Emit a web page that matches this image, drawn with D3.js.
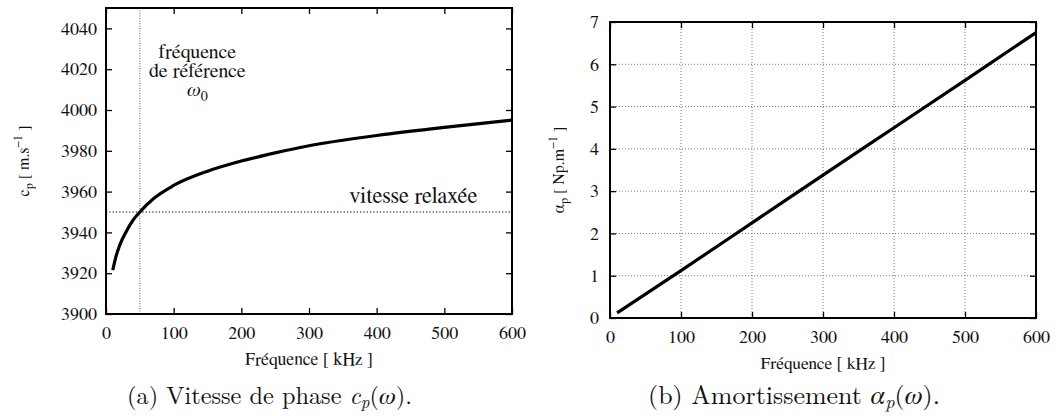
<!DOCTYPE html>
<html><head><meta charset="utf-8">
<script src="https://cdn.jsdelivr.net/npm/d3@7"></script>
<style>
body{margin:0;background:#fff;}
svg text{font-family:"FreeSerif","Nimbus Roman",serif;fill:#111;}
svg text.cap{font-family:"Latin Modern Roman","FreeSerif",serif;fill:#111;}
</style></head><body>
<svg id="c" width="1059" height="416"></svg>
<script>
// ---- data ----
const freqA = [10,15,20,30,40,50,70,100,150,200,250,300,400,500,600];           // kHz
const velocity = [3921.5,3928.5,3933.5,3940.5,3946,3950,3956.5,3963,3970,3975,3979,3982.5,3987.5,3991.5,3995]; // m/s
const freqB = [10,100,200,300,400,500,600];                                      // kHz
const attenuation = [0.12,1.12,2.25,3.38,4.5,5.62,6.75];                         // Np/m
const xTicks = [0,100,200,300,400,500,600];
const yTicksA = [3900,3920,3940,3960,3980,4000,4020,4040];
const yTicksB = [0,1,2,3,4,5,6,7];
const refFreq = 50;
const relaxedVelocity = 3950;

const svg = d3.select("#c");
const FS = 18;
const fmt = d3.format("d");

function frame(g, x, y, yTicks, opts){
  const [x0,x1] = x.range(), [y0,y1] = y.range();
  if (opts.grid){
    const gg = g.append("g").attr("stroke","#777").attr("stroke-width",1).attr("stroke-dasharray","1,2");
    gg.selectAll("line.v").data(xTicks.slice(1,-1)).join("line")
      .attr("x1",d=>x(d)).attr("x2",d=>x(d)).attr("y1",y0).attr("y2",y1);
    gg.selectAll("line.h").data(yTicks.slice(1,-1)).join("line")
      .attr("x1",x0).attr("x2",x1).attr("y1",d=>y(d)).attr("y2",d=>y(d));
  }
  const bottom = g.append("g").attr("transform",`translate(0,${y0})`)
    .call(d3.axisBottom(x).tickValues(xTicks).tickFormat(fmt).tickSizeInner(-6).tickSizeOuter(0).tickPadding(12));
  const top = g.append("g").attr("transform",`translate(0,${y1})`)
    .call(d3.axisTop(x).tickValues(xTicks).tickSizeInner(-6).tickSizeOuter(0).tickFormat(""));
  const left = g.append("g").attr("transform",`translate(${x0},0)`)
    .call(d3.axisLeft(y).tickValues(yTicks).tickFormat(fmt).tickSizeInner(-6).tickSizeOuter(0).tickPadding(opts.ypad));
  const right = g.append("g").attr("transform",`translate(${x1},0)`)
    .call(d3.axisRight(y).tickValues(yTicks).tickSizeInner(-6).tickSizeOuter(0).tickFormat(""));
  [bottom,top,left,right].forEach(a=>{
    a.attr("font-family",null).attr("font-size",null);
    a.select(".domain").remove();
    a.selectAll(".tick line").attr("stroke","#000").attr("stroke-width",1.3);
    a.selectAll(".tick text").attr("font-size",FS).attr("fill","#111");
  });
  return {x0,x1,y0,y1};
}

function border(g,b){
  g.append("rect").attr("x",b.x0).attr("y",b.y1).attr("width",b.x1-b.x0).attr("height",b.y0-b.y1)
    .attr("fill","none").attr("stroke","#000").attr("stroke-width",2);
}
function fit(t, targetW, base, subs){
  const w = t.node().getComputedTextLength();
  if (w>0){ const k = targetW/w; t.attr("font-size",base*k); (subs||[]).forEach(([s,fs])=>s.attr("font-size",fs*k)); }
}

// ---------------- Panel (a) ----------------
const xA = d3.scaleLinear().domain([0,600]).range([106,512]);
const yA = d3.scaleLinear().domain([3900,4050]).range([314,8]);
const gA = svg.append("g");
const bA = frame(gA, xA, yA, yTicksA, {grid:false, ypad:9});

gA.append("line").attr("x1",xA(refFreq)).attr("x2",xA(refFreq)).attr("y1",bA.y0).attr("y2",bA.y1)
  .attr("stroke","#666").attr("stroke-width",1).attr("stroke-dasharray","1,1.5");
gA.append("line").attr("x1",bA.x0).attr("x2",bA.x1).attr("y1",yA(relaxedVelocity)).attr("y2",yA(relaxedVelocity))
  .attr("stroke","#000").attr("stroke-width",1.2).attr("stroke-dasharray","1.3,2");

gA.append("path").datum(d3.zip(freqA, velocity))
  .attr("d", d3.line().x(d=>xA(d[0])).y(d=>yA(d[1])).curve(d3.curveMonotoneX))
  .attr("fill","none").attr("stroke","#000").attr("stroke-width",3.2);
border(gA,bA);

const annA = gA.append("g").attr("font-size",20).attr("text-anchor","middle");
annA.append("text").attr("x",xA(135)).attr("y",yA(4025.5)).text("fréquence");
annA.append("text").attr("x",xA(135)).attr("y",yA(4016)).text("de référence");
const om = annA.append("text").attr("x",xA(135)).attr("y",yA(4007)).attr("text-anchor","middle");
om.append("tspan").attr("font-style","italic").attr("font-size",20).style("font-family","'Latin Modern Roman',FreeSerif,serif").text("ω");
om.append("tspan").attr("font-size",14).attr("dy",5).text("0");
const vr = gA.append("text").attr("x",xA(549)).attr("y",yA(3954.5)).attr("text-anchor","end").attr("font-size",FS).text("vitesse relaxée");
fit(vr, 128, FS);

const xtA = gA.append("text").attr("x",(bA.x0+bA.x1)/2).attr("y",365).attr("text-anchor","middle").attr("font-size",15).text("Fréquence [ kHz ]");
fit(xtA, 128, 15);
const ylA = gA.append("text").attr("transform",`translate(29,${(bA.y0+bA.y1)/2}) rotate(-90)`).attr("text-anchor","middle").attr("font-size",16);
ylA.append("tspan").text("c");
ylA.append("tspan").attr("font-size",12).attr("dy",4).text("p");
ylA.append("tspan").attr("dy",-4).text(" [ m.s");
ylA.append("tspan").attr("font-size",12).attr("dy",-7).text("−1");
ylA.append("tspan").attr("dy",7).text(" ]");

// ---------------- Panel (b) ----------------
const xB = d3.scaleLinear().domain([0,600]).range([610,1036]);
const yB = d3.scaleLinear().domain([0,7]).range([318,22]);
const gB = svg.append("g");
const bB = frame(gB, xB, yB, yTicksB, {grid:true, ypad:11});
gB.append("path").datum(d3.zip(freqB, attenuation))
  .attr("d", d3.line().x(d=>xB(d[0])).y(d=>yB(d[1])).curve(d3.curveMonotoneX))
  .attr("fill","none").attr("stroke","#000").attr("stroke-width",3.2);
border(gB,bB);
const xtB = gB.append("text").attr("x",(bB.x0+bB.x1)/2).attr("y",369).attr("text-anchor","middle").attr("font-size",15).text("Fréquence [ kHz ]");
fit(xtB, 125, 15);
const ylB = gB.append("text").attr("transform",`translate(564,${(bB.y0+bB.y1)/2}) rotate(-90)`).attr("text-anchor","middle").attr("font-size",16);
ylB.append("tspan").text("α");
ylB.append("tspan").attr("font-size",12).attr("dy",4).text("p");
ylB.append("tspan").attr("dy",-4).text(" [ Np.m");
ylB.append("tspan").attr("font-size",12).attr("dy",-7).text("−1");
ylB.append("tspan").attr("dy",7).text(" ]");

// ---------------- captions ----------------
function caption(cx, y, parts, targetW){
  const t = svg.append("text").attr("class","cap").attr("x",cx).attr("y",y).attr("text-anchor","middle").attr("font-size",20);
  const subs = [];
  parts.forEach(p=>{
    const s = t.append("tspan").text(p.t);
    if (p.i) s.attr("font-style","italic");
    if (p.sub){ s.attr("font-size",14).attr("dy",4); subs.push([s,14]); }
    if (p.up) s.attr("dy",-4);
  });
  fit(t, targetW, 20, subs);
}
caption(269.5, 404, [{t:"(a)  Vitesse de phase "},{t:"c",i:true},{t:"p",i:true,sub:true},{t:"(",up:true},{t:"ω",i:true},{t:")."}], 285);
caption(794, 404, [{t:"(b)  Amortissement "},{t:"α",i:true},{t:"p",i:true,sub:true},{t:"(",up:true},{t:"ω",i:true},{t:")."}], 292);
</script>
</body></html>
